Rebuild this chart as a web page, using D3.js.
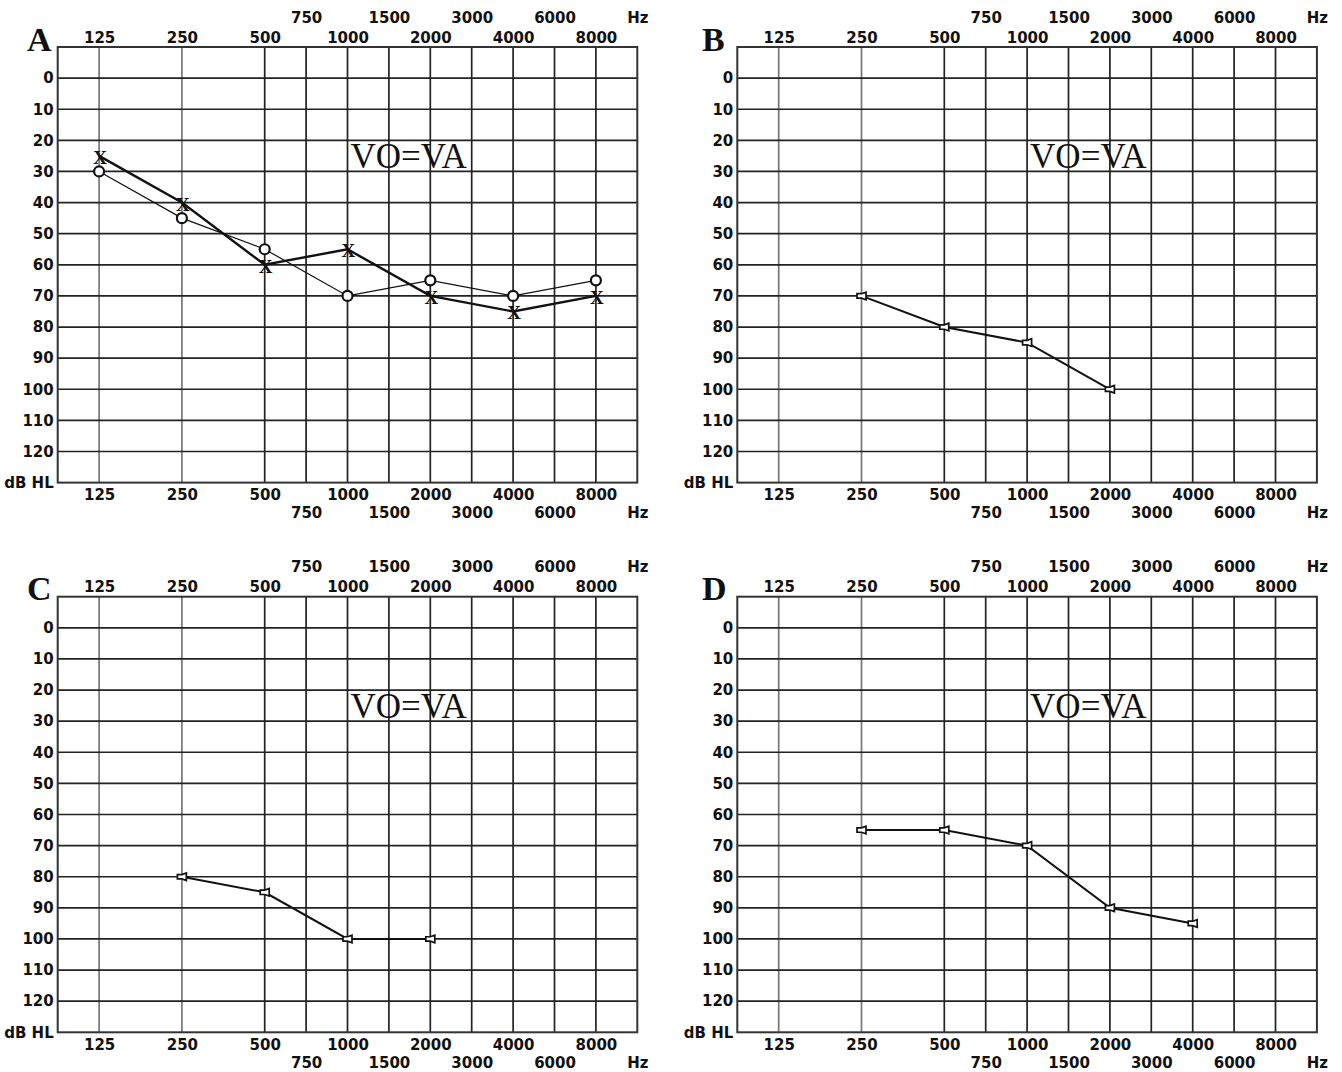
<!DOCTYPE html>
<html>
<head>
<meta charset="utf-8">
<script src="https://cdn.jsdelivr.net/npm/d3@7"></script>
<style>
  body { margin: 0; background: #fff; }
  .tick text { font-family: "DejaVu Sans", Verdana, sans-serif; font-weight: bold; font-size: 15px; fill: #111; }
</style>
</head>
<body>
<svg id="chart"></svg>
<script>
// ********************** data ************************
var freqMain = [125, 250, 500, 1000, 2000, 4000, 8000];
var freqMid = [750, 1500, 3000, 6000];
var dbTicks = [0, 10, 20, 30, 40, 50, 60, 70, 80, 90, 100, 110, 120];
var panelNames = ["A", "B", "C", "D"];
var noteText = "VO=VA";

// panel A: air conduction, circles (right) and crosses (left)
var aFreq = [125, 250, 500, 1000, 2000, 4000, 8000];
var aCircle = [30, 45, 55, 70, 65, 70, 65];
var aCross = [25, 40, 60, 55, 70, 75, 70];

// panels B, C, D: single series
var bFreq = [250, 500, 1000, 2000];
var bDb = [70, 80, 85, 100];
var cFreq = [250, 500, 1000, 2000];
var cDb = [80, 85, 100, 100];
var dFreq = [250, 500, 1000, 2000, 4000];
var dDb = [65, 65, 70, 90, 95];

// ********************** layout ************************
var screen = { width: 1342, height: 1072 };
var svg = d3.select("#chart")
  .attr("width", screen.width)
  .attr("height", screen.height);

var plotW = 579.6, plotH = 435.6;
var origins = [
  { x: 57.7, y: 47, lx: 27 },
  { x: 737.3, y: 47, lx: 702 },
  { x: 57.7, y: 596.7, lx: 27 },
  { x: 737.3, y: 596.7, lx: 702 }
];

// audiogram position: octaves above 125, intermediates sit at half octaves
var octIdx = function(f) { return Math.round(2 * Math.log2(f / 125)) / 2; };

var xScale = d3.scaleLinear().domain([-0.5, 6.5]).range([0, plotW]);
var yScale = d3.scaleLinear().domain([-10, 130]).range([0, plotH]);

var fmtFreq = function(v) {
  if (v > 6.4) return "Hz";
  var all = freqMain.concat(freqMid);
  for (var i = 0; i < all.length; i++) {
    if (octIdx(all[i]) == v) return all[i];
  }
  return "";
};

var drawPanel = function(p, i)
{
  var g = svg.append("g")
    .attr("transform", "translate(" + p.x + "," + p.y + ")");

  // grid
  var vlines = freqMain.concat(freqMid);
  g.selectAll("line.v")
    .data(vlines)
    .enter()
    .append("line")
    .attr("x1", function(d) { return xScale(octIdx(d)); })
    .attr("x2", function(d) { return xScale(octIdx(d)); })
    .attr("y1", 0)
    .attr("y2", plotH)
    .attr("stroke", function(d) { return d < 500 ? "#777" : "#222"; })
    .attr("stroke-width", 1.7);

  g.selectAll("line.h")
    .data(dbTicks)
    .enter()
    .append("line")
    .attr("x1", 0)
    .attr("x2", plotW)
    .attr("y1", function(d) { return yScale(d); })
    .attr("y2", function(d) { return yScale(d); })
    .attr("stroke", "#222")
    .attr("stroke-width", 1.7);

  g.append("rect")
    .attr("width", plotW)
    .attr("height", plotH)
    .attr("fill", "none")
    .attr("stroke", "#333")
    .attr("stroke-width", 2);

  // axes
  var mainIdx = freqMain.map(octIdx);
  var midIdx = freqMid.map(octIdx).concat([6.5]);

  var axes = [
    { ax: d3.axisTop(xScale).tickValues(mainIdx).tickPadding(4.5), y: 0 },
    { ax: d3.axisTop(xScale).tickValues(midIdx).tickPadding(24.5), y: 0 },
    { ax: d3.axisBottom(xScale).tickValues(mainIdx).tickPadding(6.7), y: plotH },
    { ax: d3.axisBottom(xScale).tickValues(midIdx).tickPadding(24.7), y: plotH }
  ];
  axes.forEach(function(a) {
    g.append("g")
      .attr("transform", "translate(0," + a.y + ")")
      .call(a.ax.tickSize(0).tickFormat(fmtFreq))
      .call(function(s) { s.select(".domain").remove(); });
  });

  g.append("g")
    .call(d3.axisLeft(yScale)
      .tickValues(dbTicks.concat([130]))
      .tickSize(0)
      .tickPadding(4)
      .tickFormat(function(d) { return d == 130 ? "dB HL" : d; }))
    .call(function(s) { s.select(".domain").remove(); });

  // panel letter
  svg.append("text")
    .attr("x", p.lx)
    .attr("y", p.y + 3.5)
    .attr("font-family", "Liberation Serif, Times New Roman, serif")
    .attr("font-weight", "bold")
    .attr("font-size", 34)
    .attr("fill", "#111")
    .text(panelNames[i]);

  // note
  g.append("text")
    .attr("x", xScale(octIdx(1000)) + 3)
    .attr("y", yScale(29))
    .attr("font-family", "Liberation Serif, Times New Roman, serif")
    .attr("font-size", 35)
    .attr("fill", "#111")
    .text(noteText);

  return g;
};

var line = d3.line()
  .x(function(d) { return xScale(octIdx(d.f)); })
  .y(function(d) { return yScale(d.db); });

var zipData = function(fs, dbs) {
  return fs.map(function(f, i) { return { f: f, db: dbs[i] }; });
};

var drawBone = function(g, fs, dbs)
{
  var pts = zipData(fs, dbs);
  g.append("path")
    .datum(pts)
    .attr("d", line)
    .attr("fill", "none")
    .attr("stroke", "#111")
    .attr("stroke-width", 2);
  g.selectAll("path.mk")
    .data(pts)
    .enter()
    .append("path")
    .attr("transform", function(d) {
      return "translate(" + xScale(octIdx(d.f)) + "," + yScale(d.db) + ")";
    })
    .attr("d", "M-4.5,-2.2L0,-2.2L4.5,-3.8L4.5,3.8L0,2.2L-4.5,2.2Z")
    .attr("fill", "#fff")
    .attr("stroke", "#111")
    .attr("stroke-width", 1.7);
};

var panels = origins.map(drawPanel);

// panel A
var circ = zipData(aFreq, aCircle);
var cross = zipData(aFreq, aCross);
panels[0].append("path")
  .datum(circ)
  .attr("d", line)
  .attr("fill", "none")
  .attr("stroke", "#111")
  .attr("stroke-width", 1.2);
panels[0].append("path")
  .datum(cross)
  .attr("d", line)
  .attr("fill", "none")
  .attr("stroke", "#111")
  .attr("stroke-width", 2.4);
panels[0].selectAll("circle.o")
  .data(circ)
  .enter()
  .append("circle")
  .attr("cx", function(d) { return xScale(octIdx(d.f)); })
  .attr("cy", function(d) { return yScale(d.db); })
  .attr("r", 5)
  .attr("fill", "#fff")
  .attr("stroke", "#111")
  .attr("stroke-width", 2.2);
panels[0].selectAll("text.x")
  .data(cross)
  .enter()
  .append("text")
  .attr("x", function(d) { return xScale(octIdx(d.f)) + 1; })
  .attr("y", function(d) { return yScale(d.db) + 8; })
  .attr("text-anchor", "middle")
  .attr("font-family", "Liberation Serif, Times New Roman, serif")
  .attr("font-weight", "bold")
  .attr("font-size", 19)
  .attr("fill", "#111")
  .text("X");

drawBone(panels[1], bFreq, bDb);
drawBone(panels[2], cFreq, cDb);
drawBone(panels[3], dFreq, dDb);
</script>
</body>
</html>
